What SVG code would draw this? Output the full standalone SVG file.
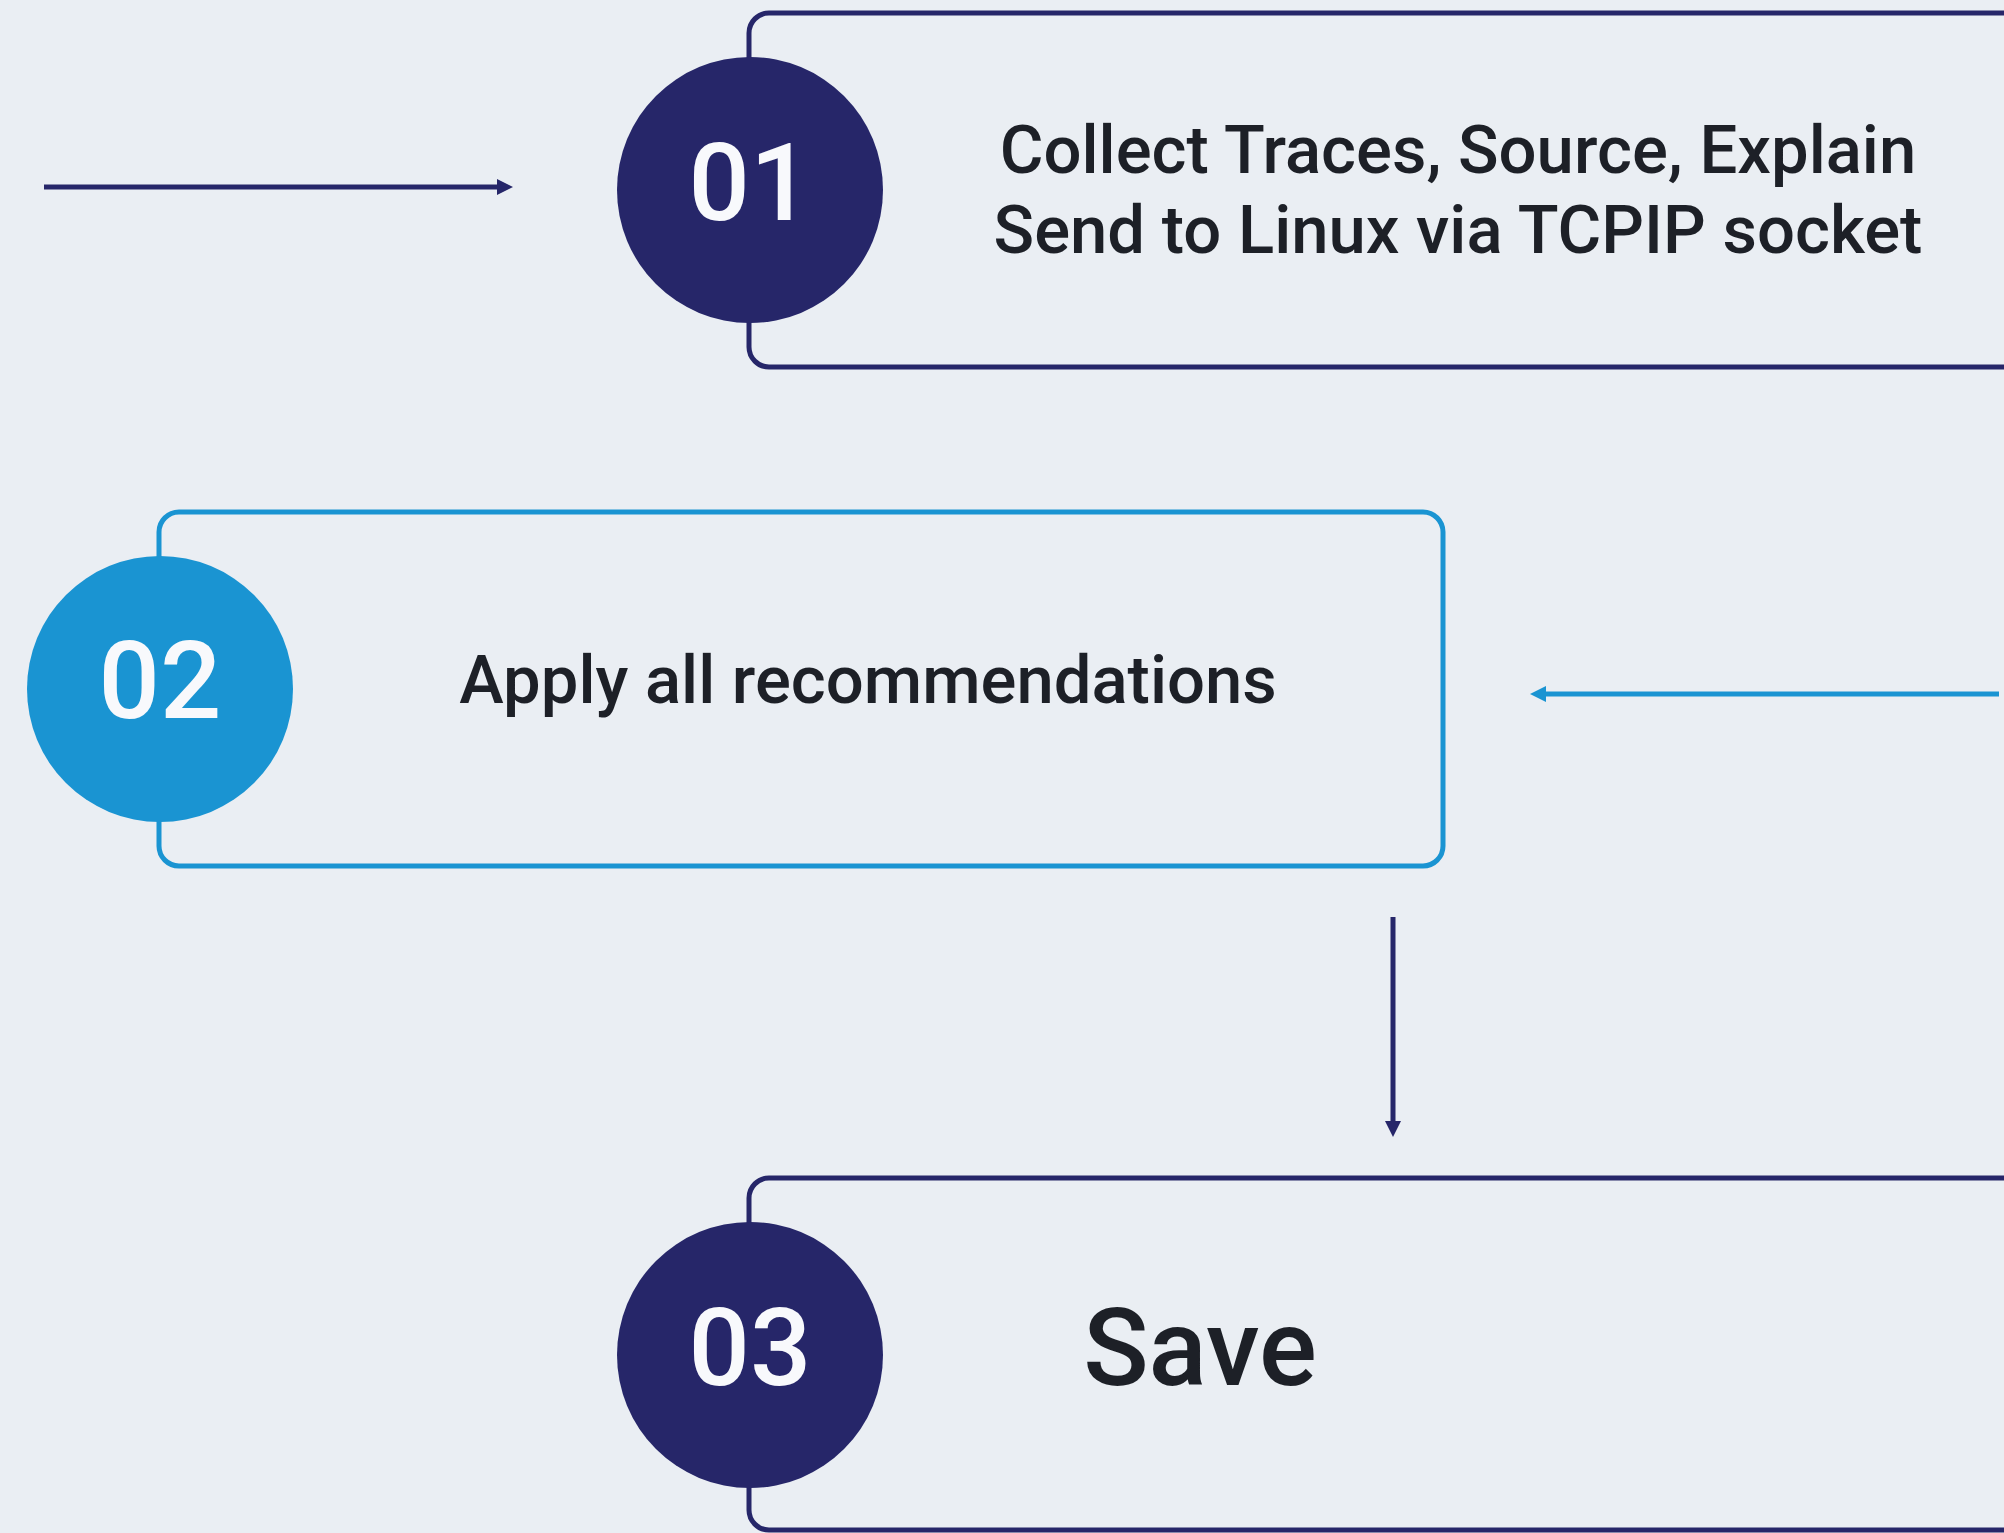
<svg xmlns="http://www.w3.org/2000/svg" width="2004" height="1533" viewBox="0 0 2004 1533">
<defs>
<style>
.bg{fill:#eaeef3}
.box{fill:none;stroke-width:5}
.navy{stroke:#262669}
.blue{stroke:#1a94d2}
.num{font-family:Roboto,"Liberation Sans",sans-serif;font-weight:500;font-size:108px;fill:#f8f9fc;text-anchor:middle}
.lbl{font-family:Roboto,"Liberation Sans",sans-serif;font-weight:500;font-size:67px;fill:#1d2027;text-anchor:middle}
.big{font-family:Roboto,"Liberation Sans",sans-serif;font-weight:500;font-size:108px;fill:#1d2027;text-anchor:middle}
.conn{fill:none;stroke-width:5}
</style>
<marker id="ahNavy" markerUnits="userSpaceOnUse" markerWidth="16" markerHeight="16" refX="0" refY="8" orient="auto" viewBox="0 0 16 16"><path d="M0,0 L16,8 L0,16 z" fill="#262669"/></marker>
<marker id="ahBlue" markerUnits="userSpaceOnUse" markerWidth="16" markerHeight="16" refX="0" refY="8" orient="auto" viewBox="0 0 16 16"><path d="M0,0 L16,8 L0,16 z" fill="#1a94d2"/></marker>
</defs>
<rect class="bg" x="0" y="0" width="2004" height="1533"/>
<g id="connectors">
<line class="conn navy" x1="44" y1="187" x2="497" y2="187" marker-end="url(#ahNavy)"/>
<line class="conn blue" x1="1999" y1="694" x2="1546" y2="694" marker-end="url(#ahBlue)"/>
<line class="conn navy" x1="1393" y1="917" x2="1393" y2="1121" marker-end="url(#ahNavy)"/>
</g>
<g id="node1">
<rect class="box navy" x="749" y="13" width="1300" height="354" rx="20" ry="20"/>
<circle cx="750" cy="190" r="133" fill="#262669"/>
<text class="num" x="750" y="220">01</text>
<text class="lbl" x="1458" y="173">Collect Traces, Source, Explain</text>
<text class="lbl" x="1458" y="253">Send to Linux via TCPIP socket</text>
</g>
<g id="node2">
<rect class="box blue" x="159" y="512" width="1284" height="354" rx="20" ry="20"/>
<circle cx="160" cy="689" r="133" fill="#1a94d2"/>
<text class="num" x="160" y="718">02</text>
<text class="lbl" x="868" y="703">Apply all recommendations</text>
</g>
<g id="node3">
<rect class="box navy" x="749" y="1178" width="1300" height="352" rx="20" ry="20"/>
<circle cx="750" cy="1355" r="133" fill="#262669"/>
<text class="num" x="750" y="1385">03</text>
<text class="big" x="1200" y="1385">Save</text>
</g>
</svg>
